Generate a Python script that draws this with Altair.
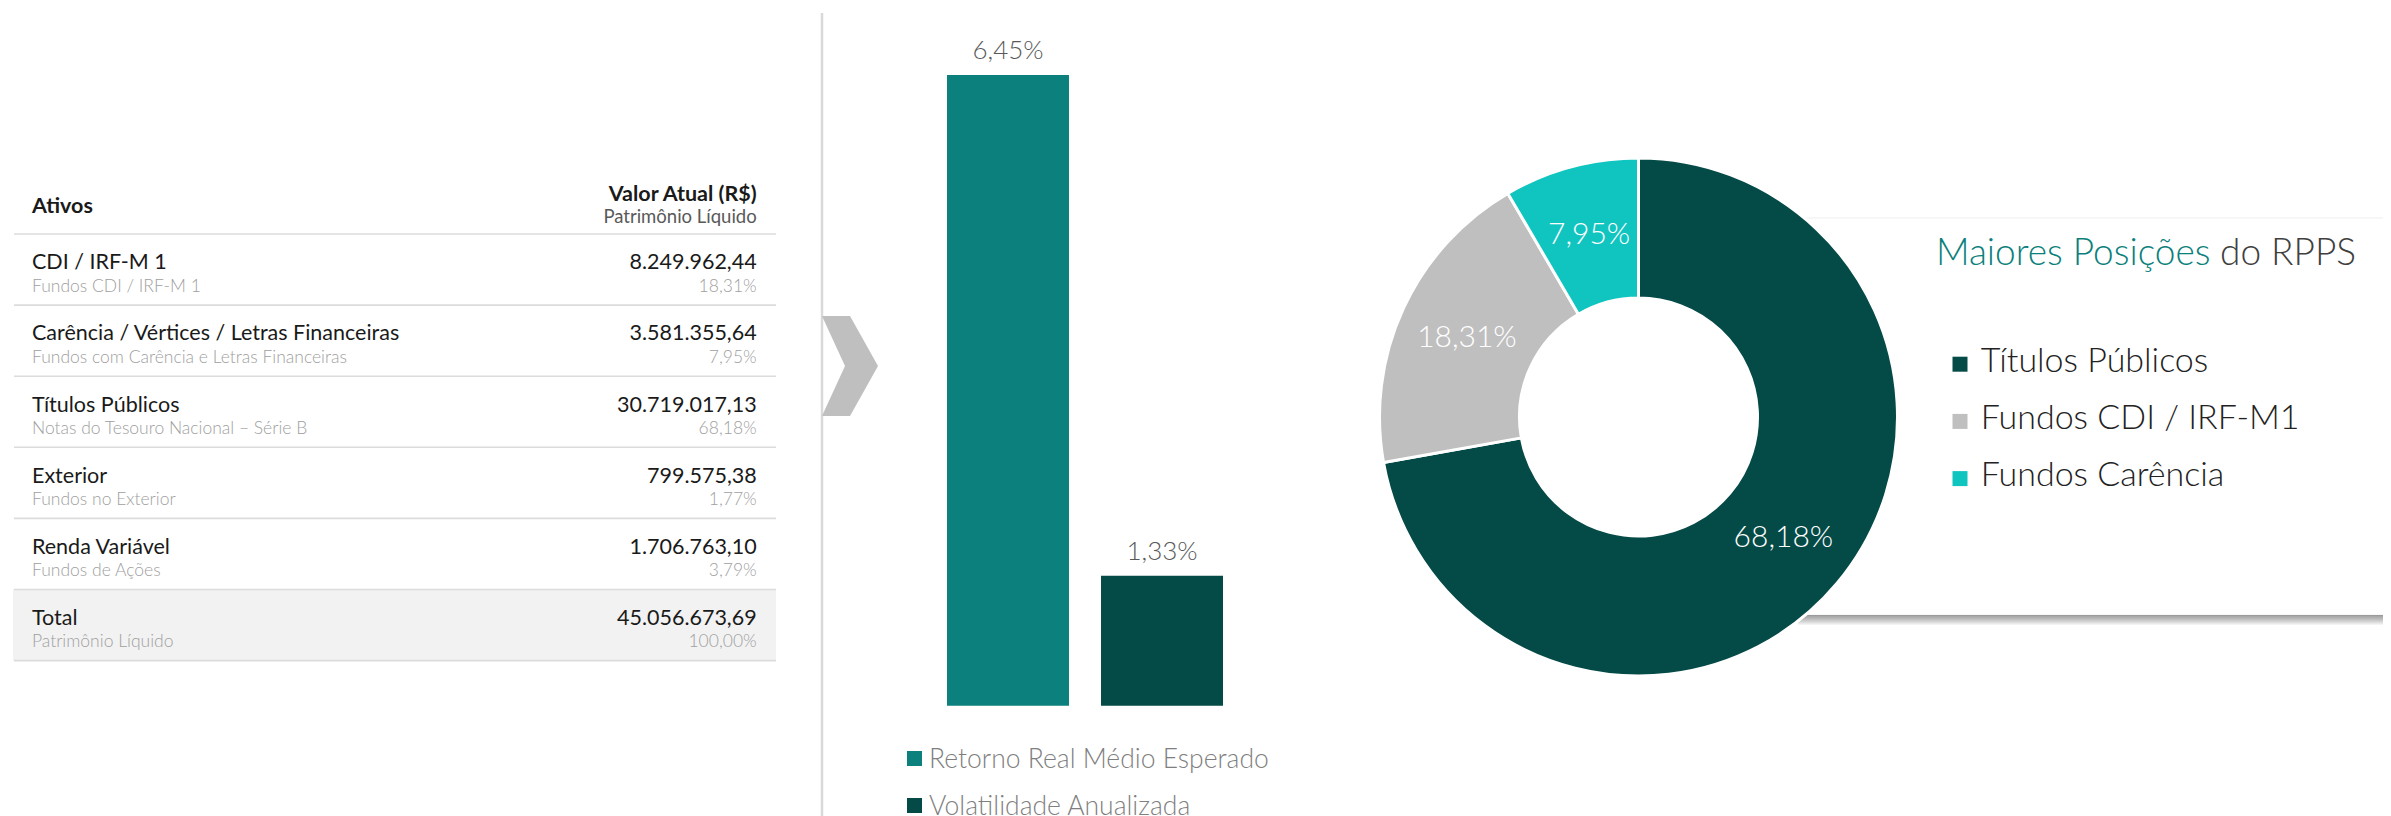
import altair as alt
import pandas as pd

# ---------------- data ----------------
asset_names = ["CDI / IRF-M 1", "Carência / Vértices / Letras Financeiras", "Títulos Públicos",
               "Exterior", "Renda Variável", "Total"]
asset_desc = ["Fundos CDI / IRF-M 1", "Fundos com Carência e Letras Financeiras",
              "Notas do Tesouro Nacional – Série B", "Fundos no Exterior", "Fundos de Ações",
              "Patrimônio Líquido"]
asset_values = [8249962.44, 3581355.64, 30719017.13, 799575.38, 1706763.10, 45056673.69]
asset_pcts = [18.31, 7.95, 68.18, 1.77, 3.79, 100.00]
header_left = "Ativos"
header_right = "Valor Atual (R$)"
header_right_sub = "Patrimônio Líquido"

bar_labels = ["Retorno Real Médio Esperado", "Volatilidade Anualizada"]
bar_values = [6.45, 1.33]
bar_colors = ["#0b807c", "#044a46"]

pie_labels = ["Títulos Públicos", "Fundos CDI / IRF-M1", "Fundos Carência"]
pie_values = [68.18, 18.31, 7.95]
pie_colors = ["#044a46", "#bfbfbf", "#10c4c0"]
title_teal = "Maiores Posições"
title_rest = "do RPPS"

FONT = "Lato"


def br(v, d=2):
    s = f"{v:,.{d}f}"
    return s.replace(",", "X").replace(".", ",").replace("X", ".")


# ---------------- table ----------------
tab_df = pd.DataFrame({
    "row": list(range(len(asset_names))),
    "name": asset_names,
    "desc": asset_desc,
    "val": [br(v) for v in asset_values],
    "pct": [br(p) + "%" for p in asset_pcts],
})
lines_df = pd.DataFrame({"row": list(range(len(asset_names) + 1))})
total_df = pd.DataFrame({"row": [len(asset_names) - 1], "row2": [len(asset_names)]})
head_df = pd.DataFrame({"row": [0]})

ysc = alt.Scale(domain=[0, len(asset_names)], range=[226, 652.6], nice=False, zero=False)
Yrow = alt.Y("row:Q", scale=ysc, axis=None)

total_bg = alt.Chart(total_df).mark_rect(color="#f2f2f2").encode(
    y=Yrow, y2="row2:Q", x=alt.value(5), x2=alt.value(768))
rules = alt.Chart(lines_df).mark_rule(color="#dcdcdc", strokeWidth=1.6).encode(
    y=Yrow, x=alt.value(6), x2=alt.value(768))
name_txt = alt.Chart(tab_df).mark_text(align="left", baseline="alphabetic", dy=35.3, font=FONT,
                                       fontSize=21.5, color="#1a1a1a").encode(
    y=Yrow, x=alt.value(24), text="name:N")
desc_txt = alt.Chart(tab_df).mark_text(align="left", baseline="alphabetic", dy=57.5, font=FONT,
                                       fontSize=17.5, fontWeight=300, color="#a0a0a0").encode(
    y=Yrow, x=alt.value(24), text="desc:N")
val_txt = alt.Chart(tab_df).mark_text(align="right", baseline="alphabetic", dy=35.3, font=FONT,
                                      fontSize=21.5, color="#1a1a1a").encode(
    y=Yrow, x=alt.value(748.7), text="val:N")
pct_txt = alt.Chart(tab_df).mark_text(align="right", baseline="alphabetic", dy=57.5, font=FONT,
                                      fontSize=17.5, fontWeight=300, color="#a0a0a0").encode(
    y=Yrow, x=alt.value(748.7), text="pct:N")
h1 = alt.Chart(head_df).mark_text(align="left", baseline="alphabetic", dy=-21.3, font=FONT,
                                  fontSize=21.5, fontWeight="bold", color="#1a1a1a", text=header_left).encode(
    y=Yrow, x=alt.value(24))
h2 = alt.Chart(head_df).mark_text(align="right", baseline="alphabetic", dy=-33.3, font=FONT,
                                  fontSize=21.5, fontWeight="bold", color="#1a1a1a", text=header_right).encode(
    y=Yrow, x=alt.value(748.7))
h3 = alt.Chart(head_df).mark_text(align="right", baseline="alphabetic", dy=-10.7, font=FONT,
                                  fontSize=18.5, color="#595959", text=header_right_sub).encode(
    y=Yrow, x=alt.value(748.7))
table = alt.layer(total_bg, rules, name_txt, desc_txt, val_txt, pct_txt, h1, h2, h3)

# ---------------- divider + chevron ----------------
dummy = alt.Data(values=[{}])
divider = alt.Chart(dummy).mark_rule(color="#d9d9d9", strokeWidth=2.5).encode(
    x=alt.value(814), y=alt.value(5), y2=alt.value(810))
chevron = alt.Chart(dummy).mark_point(
    shape="M -0.56 -1 L 0 -1 L 0.56 0 L 0 1 L -0.56 1 L -0.1 0 Z",
    filled=True, fill="#bfbfbf", fillOpacity=1, strokeWidth=0, size=10000).encode(
    x=alt.value(842), y=alt.value(358))

# ---------------- bar chart ----------------
bar_df = pd.DataFrame({"label": bar_labels, "value": bar_values,
                       "txt": [br(v) + "%" for v in bar_values]})
Xb = alt.X("label:N", scale=alt.Scale(domain=bar_labels, range=[939, 1215],
                                       paddingInner=0.208, paddingOuter=0), axis=None)
Yb = alt.Y("value:Q", scale=alt.Scale(domain=[0, 6.45], range=[697.7, 67], nice=False, zero=True), axis=None)
Cb = alt.Color("label:N", scale=alt.Scale(domain=bar_labels, range=bar_colors), legend=None)
bars = alt.Chart(bar_df).mark_bar().encode(x=Xb, y=Yb, color=Cb)
bar_txt = alt.Chart(bar_df).mark_text(baseline="alphabetic", dy=-16, font=FONT, fontSize=26,
                                      fontWeight=300, color="#595959").encode(x=Xb, y=Yb, text="txt:N")
bar_chart = alt.layer(bars, bar_txt)

Yl = alt.Y("label:N", scale=alt.Scale(domain=bar_labels, range=[750.5, 797.5], padding=0), axis=None)
leg_sq = alt.Chart(bar_df).mark_square(size=225, opacity=1).encode(x=alt.value(906.5), y=Yl, color=Cb)
leg_tx = alt.Chart(bar_df).mark_text(align="left", baseline="alphabetic", dy=9.5, font=FONT, fontSize=26.5,
                                     fontWeight=300, color="#7f7f7f").encode(
    x=alt.value(921), y=Yl, text="label:N")
bar_legend = alt.layer(leg_sq, leg_tx)

# ---------------- legend panel ----------------
panel = alt.Chart(dummy).mark_rect(fill="white", stroke="#efefef", strokeWidth=1).encode(
    x=alt.value(1785), x2=alt.value(2400), y=alt.value(210), y2=alt.value(607))
shadows = [alt.Chart(dummy).mark_rect(color="black", opacity=0.045).encode(
    x=alt.value(1790), x2=alt.value(2400), y=alt.value(607), y2=alt.value(607 + h))
    for h in range(1, 11)]

# ---------------- donut ----------------
pie_df = pd.DataFrame({"label": pie_labels, "value": pie_values, "order": [0, 1, 2],
                       "txt": [br(v) + "%" for v in pie_values]})
Cp = alt.Color("label:N", scale=alt.Scale(domain=pie_labels, range=pie_colors), legend=None)
Th = alt.Theta("value:Q", stack=True)
arcs = alt.Chart(pie_df).mark_arc(outerRadius=259, innerRadius=119, stroke="white", strokeWidth=3).encode(
    theta=Th, color=Cp, order=alt.Order("order:Q"), x=alt.value(1630.5), y=alt.value(409))
arc_txt = alt.Chart(pie_df).mark_text(radius=189, font=FONT, fontSize=30, fontWeight=300, color="white").encode(
    theta=Th, order=alt.Order("order:Q"), text="txt:N", x=alt.value(1630.5), y=alt.value(409))
donut = alt.layer(arcs, arc_txt)

Yp = alt.Y("label:N", scale=alt.Scale(domain=pie_labels, range=[356.2, 470.6], padding=0), axis=None)
pl_sq = alt.Chart(pie_df).mark_square(size=225, opacity=1).encode(x=alt.value(1952), y=Yp, color=Cp)
pl_tx = alt.Chart(pie_df).mark_text(align="left", baseline="alphabetic", dy=7.5, font=FONT, fontSize=34,
                                    fontWeight=300, color="#222222").encode(
    x=alt.value(1972.7), y=Yp, text="label:N")
pie_legend = alt.layer(pl_sq, pl_tx)

t1 = alt.Chart(dummy).mark_text(align="left", baseline="alphabetic", font=FONT, fontSize=37, fontWeight=300,
                                color="#0b807c", text=title_teal).encode(x=alt.value(1928), y=alt.value(257))
t2 = alt.Chart(dummy).mark_text(align="left", baseline="alphabetic", font=FONT, fontSize=37, fontWeight=300,
                                color="#404040", text=title_rest).encode(x=alt.value(2212), y=alt.value(257))

chart = alt.layer(
    table, divider, chevron, bar_chart, bar_legend, panel, *shadows, donut, pie_legend, t1, t2
).resolve_scale(
    x="independent", y="independent", color="independent", theta="independent"
).properties(
    width=2375, height=808, padding=0, autosize=alt.AutoSizeParams(type="none"), background="white"
).configure_view(stroke=None)

chart.save("out.html", embed_options={"renderer": "svg", "actions": False})
